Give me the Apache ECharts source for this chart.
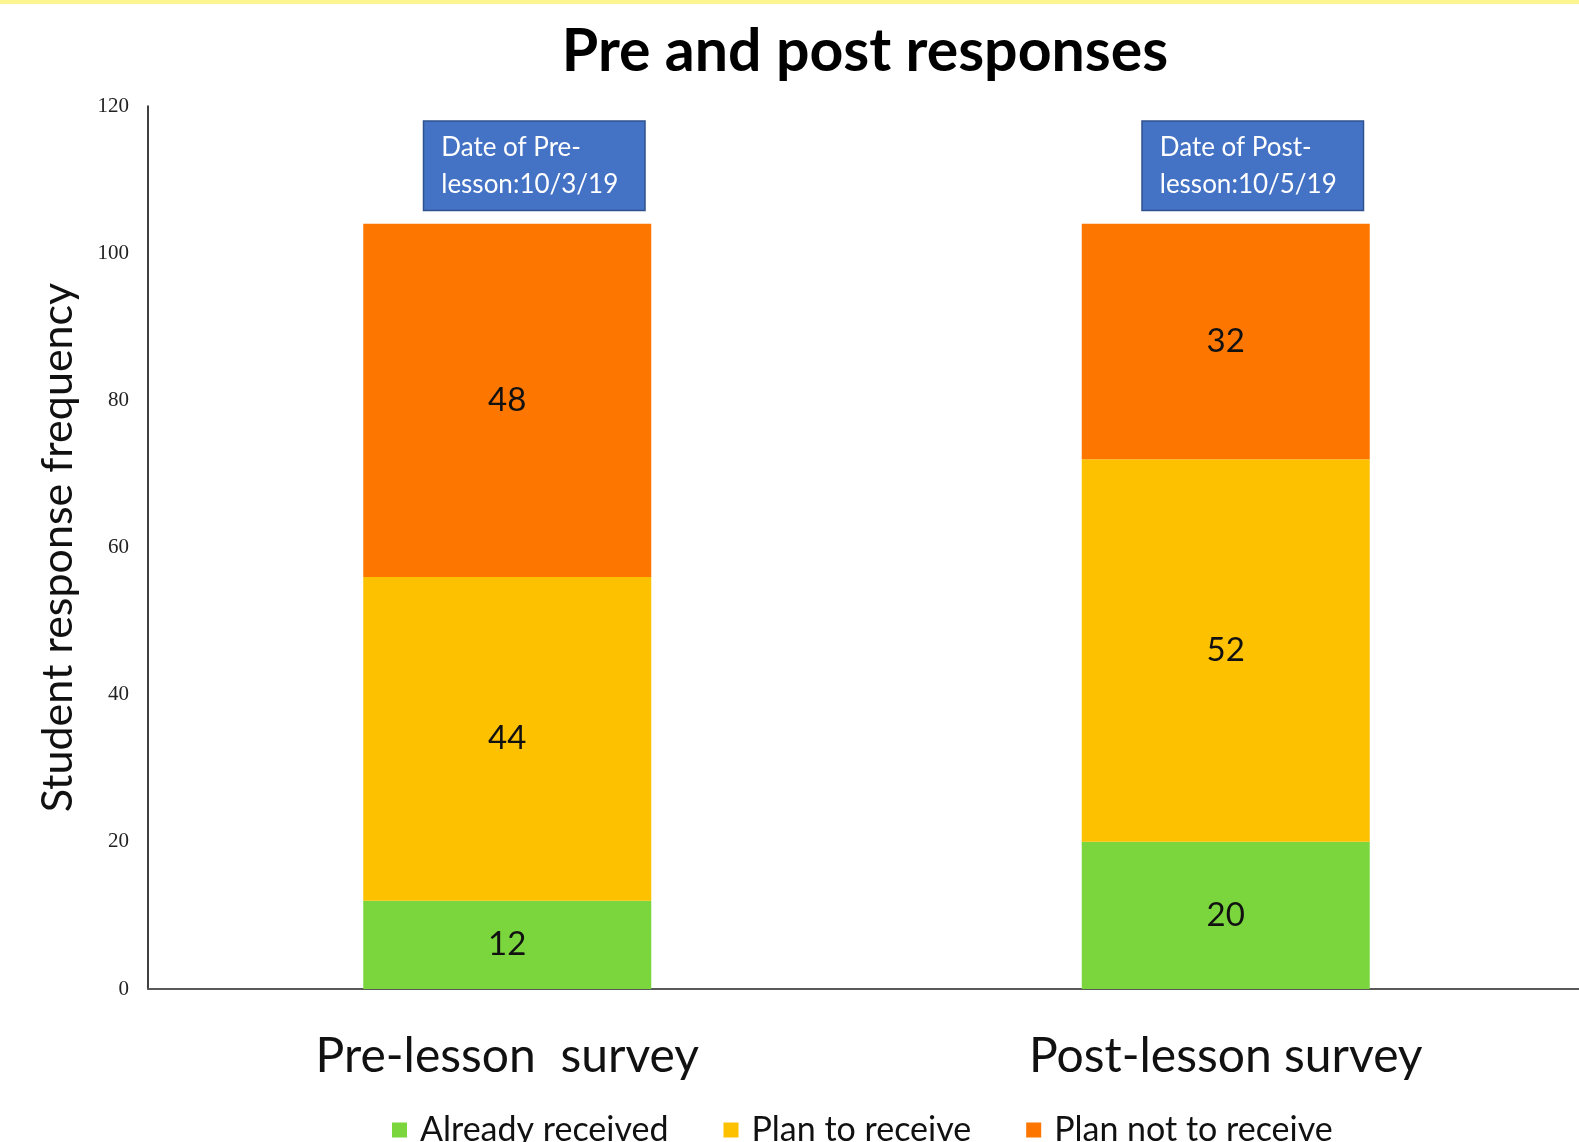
<!DOCTYPE html>
<html>
<head>
<meta charset="utf-8">
<script src="https://cdn.jsdelivr.net/npm/echarts@6/dist/echarts.min.js"></script>
<style>
  html, body { margin: 0; padding: 0; background: #fff; overflow: hidden; }
  #chart { width: 1585px; height: 1142px; position: relative; }
  .topband { position: absolute; left: 0; top: 0; width: 1585px; height: 4px; background: #fdf590; z-index: 5; }
</style>
</head>
<body>
<div class="topband"></div>
<div id="chart"></div>
<script>
// categories and stacked values
var categories = ['Pre-lesson  survey', 'Post-lesson survey'];
var alreadyReceived = [12, 20];
var planToReceive = [44, 52];
var planNotToReceive = [48, 32];
var dateLabels = ['Date of Pre-\nlesson:10/3/19', 'Date of Post-\nlesson:10/5/19'];
var yTicks = { min: 0, max: 120, interval: 20 };

// top of each stack, used to anchor the date boxes
var totals = categories.map(function (c, i) {
  return alreadyReceived[i] + planToReceive[i] + planNotToReceive[i];
});

var sans = 'Lato, "Open Sans", sans-serif';

// the plot runs a little past the right edge of the picture
var chart = echarts.init(document.getElementById('chart'));

function stackSeries(name, data, color) {
  return {
    name: name,
    type: 'bar',
    stack: 'total',
    data: data,
    barWidth: 288,
    itemStyle: { color: color },
    label: {
      show: true,
      position: 'inside',
      color: '#111',
      fontFamily: sans,
      fontSize: 33
    }
  };
}

chart.setOption({
  animation: false,
  title: {
    text: 'Pre and post responses',
    left: 860,
    textAlign: 'center',
    top: 13,
    textStyle: { fontFamily: sans, fontWeight: 'bold', fontSize: 59, color: '#000', lineHeight: 68 }
  },
  legend: {
    data: ['Already received', 'Plan to receive', 'Plan not to receive'],
    left: 387,
    top: 1107,
    itemWidth: 15,
    itemHeight: 15,
    itemGap: 55,
    icon: 'rect',
    textStyle: { fontFamily: sans, fontSize: 34, color: '#111', lineHeight: 36, padding: [0, 0, 0, 8] }
  },
  grid: { left: 148, right: 0, top: 106, bottom: 153 },
  xAxis: {
    type: 'category',
    data: categories,
    axisTick: { show: false },
    axisLine: { lineStyle: { color: '#595959', width: 2 } },
    axisLabel: { fontFamily: sans, fontSize: 48, color: '#111', margin: 44 }
  },
  yAxis: {
    type: 'value',
    min: yTicks.min,
    max: yTicks.max,
    interval: yTicks.interval,
    name: 'Student response frequency',
    nameLocation: 'middle',
    nameGap: 68,
    nameTextStyle: { fontFamily: sans, fontSize: 43, color: '#111' },
    splitLine: { show: false },
    axisTick: { show: false },
    axisLine: { show: true, lineStyle: { color: '#000', width: 1.5 } },
    axisLabel: { fontFamily: '"Liberation Serif", serif', fontSize: 21, color: '#222', margin: 19 }
  },
  series: [
    stackSeries('Already received', alreadyReceived, '#7ad63c'),
    stackSeries('Plan to receive', planToReceive, '#fdc100'),
    stackSeries('Plan not to receive', planNotToReceive, '#fd7600'),
    {
      name: 'dates',
      type: 'scatter',
      data: totals,
      symbolSize: 0,
      itemStyle: { color: 'transparent', opacity: 1 },
      z: 10,
      label: {
        show: true,
        position: 'top',
        distance: 14,
        align: 'left',
        offset: [-83, 0],
        formatter: function (p) { return dateLabels[p.dataIndex]; },
        color: '#fff',
        fontFamily: sans,
        fontSize: 26,
        lineHeight: 37,
        width: 203,
        backgroundColor: '#4472c4',
        borderColor: '#2f528f',
        borderWidth: 1.5,
        padding: [7, 0, 7, 17]
      }
    }
  ]
});
</script>
</body>
</html>
